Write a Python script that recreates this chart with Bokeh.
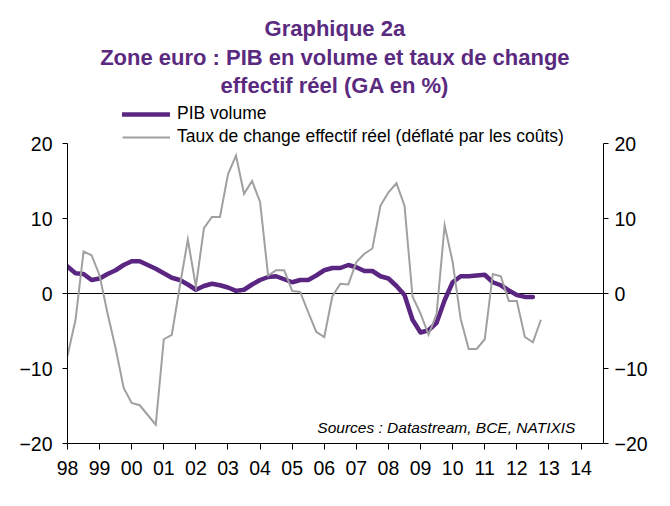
from bokeh.plotting import figure
from bokeh.models import (Range1d, LinearAxis, FixedTicker, Span, Label,
                          Legend, LegendItem)
from bokeh.embed import file_html
from bokeh.resources import INLINE

# ---------------- data ----------------
first_year = 1998          # first quarter plotted: 1998 Q1
tick_years = list(range(1998, 2015))
tick_labels = ["98", "99", "00", "01", "02", "03", "04", "05", "06",
               "07", "08", "09", "10", "11", "12", "13", "14"]
y_ticks = [-20, -10, 0, 10, 20]

# PIB en volume, glissement annuel en % (1998 Q1 -> 2012 Q3)
pib_volume = [
    3.6, 2.7, 2.6, 1.8,
    2.0, 2.6, 3.1, 3.8,
    4.3, 4.3, 3.8, 3.3,
    2.7, 2.1, 1.8, 1.2,
    0.5, 1.0, 1.3, 1.1,
    0.8, 0.35, 0.5, 1.2,
    1.8, 2.2, 2.3, 1.9,
    1.5, 1.8, 1.8, 2.4,
    3.1, 3.4, 3.4, 3.8,
    3.5, 3.0, 3.0, 2.3,
    2.0, 1.0, -0.2, -3.5,
    -5.2, -4.9, -3.9, -0.9,
    1.5, 2.3, 2.3, 2.4,
    2.5, 1.5, 1.1, 0.4,
    -0.2, -0.45, -0.45,
]

# Taux de change effectif réel (déflaté par les coûts), GA en % (1998 Q1 -> 2012 Q4)
tcer = [
    -8.3, -3.5, 5.6, 5.1,
    2.4, -2.7, -7.3, -12.6,
    -14.6, -14.9, -16.2, -17.5,
    -6.1, -5.5, 1.0, 7.2,
    0.9, 8.7, 10.2, 10.2,
    15.9, 18.4, 13.3, 15.0,
    12.2, 2.4, 3.1, 3.1,
    0.35, 0.2, -2.5, -5.1,
    -5.8, -0.4, 1.3, 1.2,
    4.2, 5.3, 6.0, 11.7,
    13.5, 14.7, 11.7, -0.4,
    -2.7, -5.5, -2.7, 9.1,
    4.2, -3.4, -7.4, -7.4,
    -6.1, 2.6, 2.3, -1.0,
    -1.0, -5.8, -6.5, -3.5,
]

pib_x = [first_year + i / 4 for i in range(len(pib_volume))]
tcer_x = [first_year + i / 4 for i in range(len(tcer))]

PURPLE = "#5b2682"
GREY = "#a0a0a0"
FONT = "Liberation Sans"

Y_MIN, Y_MAX = -20, 20
# the frame extends up to the top of the page so the headings fit inside it
Y_TOP = Y_MAX + 143 * (Y_MAX - Y_MIN) / 300

# ---------------- figure ----------------
p = figure(width=670, height=506,
           x_range=Range1d(1998, 2014.7), y_range=Range1d(Y_MIN, Y_TOP),
           output_backend="svg", toolbar_location=None,
           x_axis_type=None, y_axis_type=None,
           min_border_left=67, min_border_right=67,
           min_border_top=0, min_border_bottom=63)
p.outline_line_color = None
p.xgrid.visible = False
p.ygrid.visible = False
p.background_fill_color = "white"
p.border_fill_color = "white"

def style_axis(ax, size="19.5px"):
    ax.axis_line_color = "black"
    ax.axis_line_width = 1
    ax.major_tick_line_color = "black"
    ax.major_tick_in = 0
    ax.major_tick_out = 5
    ax.minor_tick_in = 0
    ax.minor_tick_out = 0
    ax.major_label_text_font = FONT
    ax.major_label_text_font_size = size
    ax.major_label_text_color = "black"

xaxis = LinearAxis(ticker=FixedTicker(ticks=tick_years),
                   major_label_overrides={y: l for y, l in zip(tick_years, tick_labels)})
style_axis(xaxis)
xaxis.major_tick_out = 6
xaxis.major_label_standoff = 11
p.add_layout(xaxis, "below")

yleft = LinearAxis(ticker=FixedTicker(ticks=y_ticks), bounds=(Y_MIN, Y_MAX))
style_axis(yleft)
yleft.major_label_standoff = 10
p.add_layout(yleft, "left")

yright = LinearAxis(ticker=FixedTicker(ticks=y_ticks), bounds=(Y_MIN, Y_MAX))
style_axis(yright)
yright.major_label_standoff = 6
p.add_layout(yright, "right")

zero = Span(location=0, dimension="width", line_color="black", line_width=1,
            level="underlay")
p.add_layout(zero)

r_pib = p.line(pib_x, pib_volume, line_color=PURPLE, line_width=4.5,
               line_join="round", line_cap="round")
r_tcer = p.line(tcer_x, tcer, line_color=GREY, line_width=2,
                line_join="miter")

legend = Legend(items=[LegendItem(label="PIB volume", renderers=[r_pib]),
                       LegendItem(label="Taux de change effectif réel (déflaté par les coûts)",
                                  renderers=[r_tcer])],
                location=(55, 296), orientation="vertical",
                glyph_width=48, glyph_height=20, label_height=20,
                label_standoff=7, spacing=2, padding=0, margin=0,
                border_line_color=None, background_fill_alpha=0,
                label_text_font=FONT, label_text_font_size="17.5px",
                label_text_color="black")
p.add_layout(legend)

titles = ["Graphique 2a",
          "Zone euro : PIB en volume et taux de change",
          "effectif réel (GA en %)"]
title_y = [35.33, 31.47, 27.73]
for t, ty in zip(titles, title_y):
    p.add_layout(Label(x=2006.33, y=ty, text=t, text_align="center",
                       text_baseline="middle", text_font=FONT,
                       text_font_size="22px", text_font_style="bold",
                       text_color="#5a2a80"))

p.add_layout(Label(x=2013.96, y=-17.87, text="Sources : Datastream, BCE,  NATIXIS",
                   text_align="right", text_baseline="middle", text_font=FONT,
                   text_font_size="15.5px", text_font_style="italic",
                   text_color="black"))

open("out.html", "w").write(file_html(p, INLINE))
